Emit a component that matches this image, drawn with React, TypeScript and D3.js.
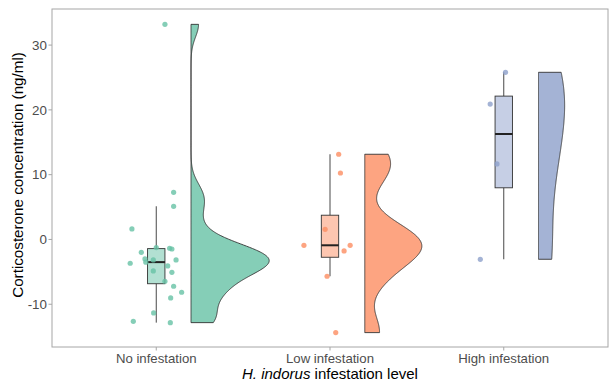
import React from 'react';
import * as d3 from 'd3';

const categories = ['No infestation', 'Low infestation', 'High infestation'];
const colors = ['#66c2a5', '#fc8d62', '#8da0cb'];

// corticosterone values per group (ng/ml)
const noInfestation = [33.2, 7.28, 5.12, 1.62, -1.98, -1.26, -1.36, -1.47, -3.0, -3.5, -3.16, -3.67,
  -3.16, -4.09, -4.86, -5.07, -6.45, -7.22, -8.15, -9.03, -11.34, -12.63, -12.84];
const lowInfestation = [13.15, 10.26, 1.57, -0.9, -0.9, -1.77, -5.68, -14.38];
const highInfestation = [25.8, 20.9, 11.65, -3.06];

// horizontal jitter of each dot (in category units), as seen in the figure
const noJitter = [0.05, 0.1, 0.1, -0.14, -0.086, 0.0, 0.077, 0.09, -0.065, -0.06, -0.017, -0.15,
  0.114, 0.066, -0.017, 0.09, 0.05, 0.1, 0.146, 0.083, -0.015, -0.132, 0.081];
const lowJitter = [0.05, 0.06, -0.028, -0.15, 0.116, 0.081, -0.017, 0.033];
const highJitter = [0.01, -0.078, -0.039, -0.135];

const yTicks = [-10, 0, 10, 20, 30];

const groups = [
  { name: categories[0], values: noInfestation, jitter: noJitter, color: colors[0] },
  { name: categories[1], values: lowInfestation, jitter: lowJitter, color: colors[1] },
  { name: categories[2], values: highInfestation, jitter: highJitter, color: colors[2] },
];

const W = 613;
const H = 381;
const margin = { top: 9, right: 5, bottom: 34, left: 52 };

function bwNrd0(v: number[]) {
  const s = d3.deviation(v) as number;
  const sorted = [...v].sort(d3.ascending);
  const iqr = (d3.quantile(sorted, 0.75) as number) - (d3.quantile(sorted, 0.25) as number);
  const lo = Math.min(s, iqr / 1.34);
  return 0.9 * lo * Math.pow(v.length, -0.2);
}

function kde(v: number[]) {
  const bw = bwNrd0(v);
  const [mn, mx] = d3.extent(v) as [number, number];
  const n = 512;
  return d3.range(n).map(i => {
    const x = mn + (i / (n - 1)) * (mx - mn);
    const d = d3.mean(v, xi => Math.exp(-0.5 * ((x - xi) / bw) ** 2) / (bw * Math.sqrt(2 * Math.PI))) as number;
    return [x, d] as [number, number];
  });
}

function boxStats(v: number[]) {
  const s = [...v].sort(d3.ascending);
  const q1 = d3.quantile(s, 0.25) as number;
  const med = d3.quantile(s, 0.5) as number;
  const q3 = d3.quantile(s, 0.75) as number;
  const iqr = q3 - q1;
  const lo = d3.min(s.filter(d => d >= q1 - 1.5 * iqr)) as number;
  const hi = d3.max(s.filter(d => d <= q3 + 1.5 * iqr)) as number;
  return { q1, med, q3, lo, hi };
}

export default function App() {
  const x0 = margin.left;
  const x1 = W - margin.right;
  const y0 = H - margin.bottom;
  const y1 = margin.top;

  // discrete axis with ggplot-like 0.6 expansion
  const x = d3.scaleLinear().domain([0.4, 3.6]).range([x0, x1]);
  const y = d3.scaleLinear().domain([-16.6, 35.57]).range([y0, y1]);
  const unit = x(2) - x(1);

  const dens = groups.map(g => kde(g.values));
  const maxD = d3.max(dens, d => d3.max(d, p => p[1])) as number;

  const font = 'Liberation Sans, Arial, sans-serif';

  return (
    <svg width={W} height={H} style={{ position: 'absolute', left: 0, top: 0, background: '#fff' }}
      fontFamily={font}>
      {groups.map((g, i) => {
        const cx = x(i + 1);
        const left = cx + 0.2 * unit;
        const area = d3.area<[number, number]>()
          .x0(left)
          .x1(p => left + (p[1] / maxD) * 0.45 * unit)
          .y(p => y(p[0]));
        const b = boxStats(g.values);
        const bw = 0.1 * unit;
        return (
          <g key={g.name}>
            <path d={area(dens[i]) as string} fill={g.color} fillOpacity={0.8} stroke="#333" strokeWidth={0.9} />
            <line x1={cx} x2={cx} y1={y(b.hi)} y2={y(b.q3)} stroke="#333" strokeWidth={0.9} />
            <line x1={cx} x2={cx} y1={y(b.q1)} y2={y(b.lo)} stroke="#333" strokeWidth={0.9} />
            <rect x={cx - bw / 2} width={bw} y={y(b.q3)} height={y(b.q1) - y(b.q3)}
              fill={g.color} fillOpacity={0.5} stroke="#333" strokeWidth={0.9} />
            <line x1={cx - bw / 2} x2={cx + bw / 2} y1={y(b.med)} y2={y(b.med)} stroke="#222" strokeWidth={2} />
            {g.values.map((v, j) => (
              <circle key={j} cx={x(i + 1 + g.jitter[j])} cy={y(v)} r={2.6} fill={g.color} fillOpacity={0.8} />
            ))}
          </g>
        );
      })}

      <rect x={x0} y={y1} width={x1 - x0} height={y0 - y1} fill="none" stroke="#a6a6a6" strokeWidth={1} />

      {yTicks.map(t => (
        <g key={t}>
          <line x1={x0 - 3.5} x2={x0} y1={y(t)} y2={y(t)} stroke="#a6a6a6" />
          <text x={x0 - 5} y={y(t)} dy="0.35em" textAnchor="end" fontSize={13.4} fill="#4d4d4d">{t}</text>
        </g>
      ))}
      {categories.map((c, i) => (
        <g key={c}>
          <line x1={x(i + 1)} x2={x(i + 1)} y1={y0} y2={y0 + 3.5} stroke="#a6a6a6" />
          <text x={x(i + 1)} y={y0 + 16} textAnchor="middle" fontSize={13.2} fill="#4d4d4d">{c}</text>
        </g>
      ))}

      <text x={(x0 + x1) / 2} y={379} textAnchor="middle" fontSize={15} fill="#000">
        <tspan fontStyle="italic">H. indorus</tspan> infestation level
      </text>
      <text transform={`translate(23,${(y0 + y1) / 2 - 3}) rotate(-90)`} textAnchor="middle" fontSize={15.2} fill="#000">
        Corticosterone concentration (ng/ml)
      </text>
    </svg>
  );
}
